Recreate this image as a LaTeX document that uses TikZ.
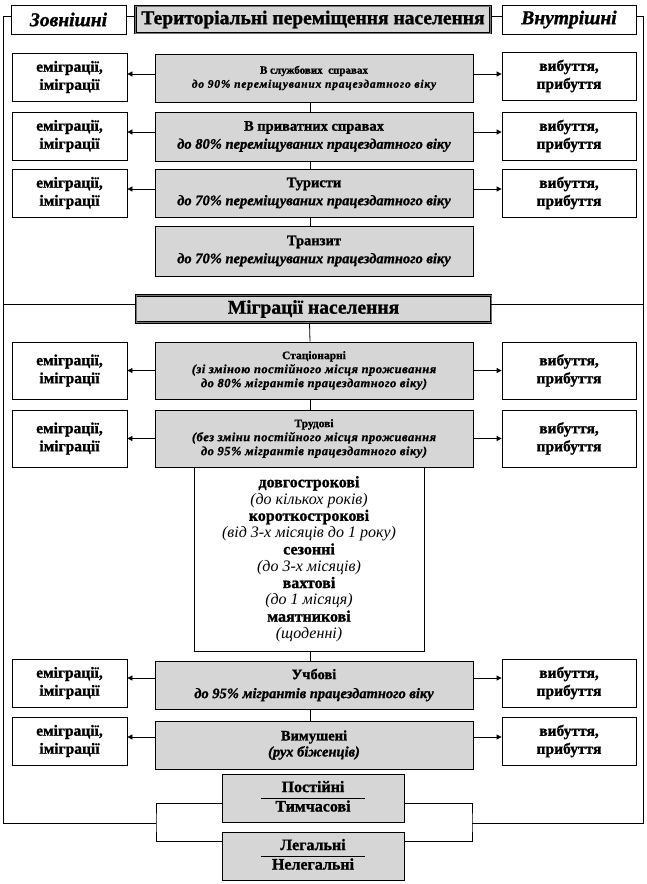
\documentclass[tikz,border=0pt]{standalone}
\usepackage{fontspec}
\setmainfont{Liberation Serif}[BoldFeatures={FakeBold=1.2},BoldItalicFeatures={FakeBold=1.2}]
\usetikzlibrary{arrows.meta}
\newcommand{\sarr}[4]{%
  \draw[arr] (#1.west) ++(0,-#4) coordinate (t) -- (t -| #2.east);
  \draw[arr] (#1.east) ++(0,-#4) coordinate (t) -- (t -| #3.west);}
\newcommand{\fracbox}[2]{\renewcommand{\arraystretch}{1.12}\begin{tabular}{@{}c@{}}\makebox[104pt]{#1}\\\hline\makebox[104pt]{#2}\end{tabular}}
\newcommand{\spc}[1]{\addfontfeature{LetterSpace=#1}}
\begin{document}
\begin{tikzpicture}[x=1pt,y=-1pt,
  box/.style={draw, line width=0.8pt, inner sep=0pt, align=center},
  gbox/.style={box, fill=black!16, minimum width=318pt},
  wbox/.style={box, fill=white},
  head/.style={draw=black, line width=0.7pt, double=black!55, double distance=0.9pt,
     fill=black!16, inner sep=0pt, minimum width=355pt, minimum height=27pt,
     font=\fontsize{19.5}{21}\selectfont\bfseries},
  lside/.style={wbox, minimum width=115pt, minimum height=48pt, font=\fontsize{15.5}{18}\selectfont\bfseries},
  rside/.style={wbox, minimum width=134pt, minimum height=48pt, font=\fontsize{15.5}{18}\selectfont\bfseries},
  arr/.style={-{Triangle[length=5pt,width=5pt]}, line width=0.8pt},
  ln/.style={line width=0.8pt}]
\useasboundingbox (0,0) rectangle (646,884);

% top row
\node[wbox, minimum width=115pt, minimum height=29pt, font=\fontsize{19.5}{21}\selectfont\bfseries\itshape] (zov) at (68.5,19.5) {Зовнішні};
\node[head] (title) at (313,19.5) {Територіальні переміщення населення};
\node[wbox, minimum width=134pt, minimum height=29pt, font=\fontsize{19.5}{21}\selectfont\bfseries\itshape] (vnut) at (569,19.5) {Внутрішні};

% section 1
\node[gbox, minimum height=48pt, font=\fontsize{11}{14}\selectfont\bfseries] (r1) at (314,78)
  {В службових\ \ справах\\{\fontsize{11.5}{14}\selectfont\itshape\spc{7}до 90\% переміщуваних працездатного віку}};
\node[gbox, minimum height=49pt, font=\fontsize{14.5}{18}\selectfont\bfseries] (r2) at (314,136.5)
  {В приватних справах\\{\itshape до 80\% переміщуваних працездатного віку}};
\node[gbox, minimum height=48pt, font=\fontsize{14.5}{18}\selectfont\bfseries] (r3) at (314,193)
  {Туристи\\{\itshape до 70\% переміщуваних працездатного віку}};
\node[gbox, minimum height=50pt, font=\fontsize{14.5}{18}\selectfont\bfseries] (r4) at (314,251)
  {Транзит\\{\itshape до 70\% переміщуваних працездатного віку}};

\node[lside] (l1) at (69.5,77) {еміграції,\\іміграції};
\node[rside] (p1) at (569,76) {вибуття,\\прибуття};
\node[lside] (l2) at (69.5,136) {еміграції,\\іміграції};
\node[rside] (p2) at (569,136) {вибуття,\\прибуття};
\node[lside] (l3) at (69.5,193) {еміграції,\\іміграції};
\node[rside] (p3) at (569,193) {вибуття,\\прибуття};

% section 2
\node[head] (mig) at (313.5,309) {Міграції населення};
\node[gbox, minimum height=57pt, font=\fontsize{11.5}{14}\selectfont\bfseries] (s1) at (314,370.5)
  {Стаціонарні\\{\fontsize{12.5}{14}\selectfont\itshape\spc{4}(зі зміною постійного місця проживання}\\{\fontsize{12.5}{14}\selectfont\itshape\spc{4}до 80\% мігрантів працездатного віку)}};
\node[gbox, minimum height=57pt, font=\fontsize{11.5}{14}\selectfont\bfseries] (s2) at (314,438.5)
  {Трудові\\{\fontsize{12.5}{14}\selectfont\itshape\spc{4}(без зміни постійного місця проживання}\\{\fontsize{12.5}{14}\selectfont\itshape\spc{4}до 95\% мігрантів працездатного віку)}};
\node[wbox, minimum width=230pt, minimum height=184pt, font=\fontsize{16}{16.8}\selectfont] (sub) at (309,559)
  {\textbf{довгострокові}\\\textit{(до кількох років)}\\\textbf{короткострокові}\\\textit{(від 3-х місяців до 1 року)}\\
   \textbf{сезонні}\\\textit{(до 3-х місяців)}\\\textbf{вахтові}\\\textit{(до 1 місяця)}\\\textbf{маятникові}\\\textit{(щоденні)}};
\node[gbox, minimum height=48pt, font=\fontsize{14.5}{19}\selectfont\bfseries] (s3) at (314,685)
  {Учбові\\{\itshape до 95\% мігрантів працездатного віку}};
\node[gbox, minimum height=48pt, font=\fontsize{14.5}{16}\selectfont\bfseries] (s4) at (314,745)
  {Вимушені\\{\itshape (рух біженців)}};

\node[lside, minimum height=57pt] (l5) at (69.5,370.5) {еміграції,\\іміграції};
\node[rside, minimum height=57pt] (p5) at (569,370.5) {вибуття,\\прибуття};
\node[lside, minimum height=57pt] (l6) at (69.5,438.5) {еміграції,\\іміграції};
\node[rside, minimum height=57pt] (p6) at (569,438.5) {вибуття,\\прибуття};
\node[lside] (l7) at (69.5,683) {еміграції,\\іміграції};
\node[rside] (p7) at (569,683) {вибуття,\\прибуття};
\node[lside] (l8) at (69.5,741) {еміграції,\\іміграції};
\node[rside] (p8) at (569,741) {вибуття,\\прибуття};

\node[gbox, minimum width=182pt, minimum height=48pt, font=\fontsize{16}{17}\selectfont\bfseries] (post) at (313,798)
  {\fracbox{Постійні}{Тимчасові}};
\node[gbox, minimum width=182pt, minimum height=48pt, font=\fontsize{16}{17}\selectfont\bfseries] (leg) at (313,856)
  {\fracbox{Легальні}{Нелегальні}};

% side arrows
\sarr{r1}{l1}{p1}{4}
\sarr{r2}{l2}{p2}{4.5}
\sarr{r3}{l3}{p3}{4}
\sarr{s1}{l5}{p5}{0}
\sarr{s2}{l6}{p6}{0}
\sarr{s3}{l7}{p7}{7}
\sarr{s4}{l8}{p8}{8}

% vertical connectors
\draw[ln] ([xshift=-4pt]r1.south) -- ([xshift=-4pt]r2.north);
\draw[ln] ([xshift=-4pt]r2.south) -- ([xshift=-4pt]r3.north);
\draw[ln] ([xshift=-4pt]r3.south) -- ([xshift=-4pt]r4.north);
\draw[ln] ([xshift=-4pt]mig.south) -- ([xshift=-4pt]s1.north);
\draw[ln] ([xshift=-4pt]s1.south) -- ([xshift=-4pt]s2.north);
\draw[ln] (sub.south) ++(1,0) coordinate (t) -- (t |- s3.north);
\draw[ln] ([xshift=-4pt]s3.south) -- ([xshift=-4pt]s4.north);

% frame
\coordinate (bl) at (156,823);
\coordinate (br) at (472,823);
\coordinate (fl) at (3,304);
\coordinate (fr) at (643,304);
\draw[ln] ([yshift=3.5pt]zov.east) -- ([yshift=3.5pt]title.west);
\draw[ln] ([yshift=3.5pt]title.east) -- ([yshift=3.5pt]vnut.west);
\draw[ln] ([yshift=3.5pt]zov.west) -| (3,823) -- (bl);
\draw[ln] ([yshift=3.5pt]vnut.east) -| (643,823) -- (br);
\draw[ln] ([yshift=5pt]mig.west) -- (fl);
\draw[ln] ([yshift=5pt]mig.east) -- (fr);
\draw[ln] ([yshift=-5pt]post.west) -| (bl) |- ([yshift=15pt]leg.west);
\draw[ln] ([yshift=-5pt]post.east) -| (br) |- ([yshift=15pt]leg.east);
\end{tikzpicture}
\end{document}
